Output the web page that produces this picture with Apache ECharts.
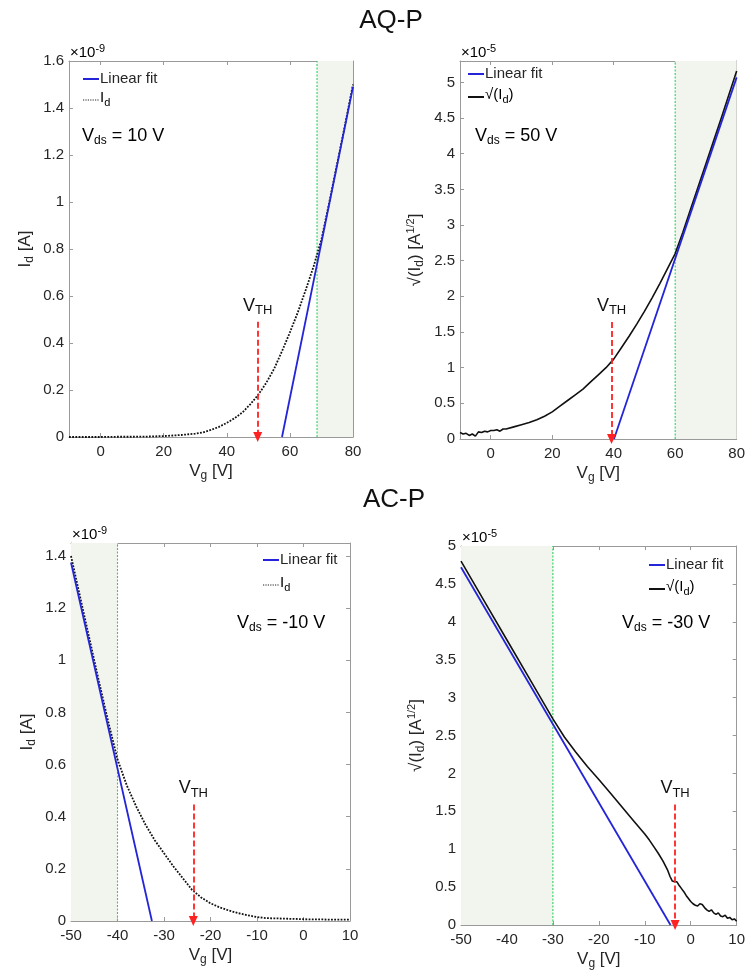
<!DOCTYPE html>
<html>
<head>
<meta charset="utf-8">
<script src="https://cdn.jsdelivr.net/npm/echarts@6/dist/echarts.min.js"></script>
<style>
  html, body { margin: 0; padding: 0; background: #ffffff; }
  #chart { width: 748px; height: 979px; }
</style>
</head>
<body>
<div id="chart"></div>
<script>
// ---------- AQ-P : drain current at Vds = 10 V (units of 1e-9 A) ----------
const aqIdVg = [-10, -5, 0, 5, 10, 15, 20, 25, 30, 32.5, 35, 37.5, 40, 42.5, 45, 47.5, 50,
                52.5, 55, 57.5, 60, 62.5, 65, 67.5, 70, 72.5, 75, 77.5, 80];
const aqId   = [0, 0, 0, 0.001, 0.001, 0.002, 0.004, 0.008, 0.014, 0.02, 0.03, 0.043, 0.06, 0.08, 0.105, 0.14, 0.18,
                0.23, 0.29, 0.365, 0.445, 0.53, 0.625, 0.725, 0.84, 1.0, 1.165, 1.33, 1.5];
const aqIdFitVg = [57.5, 80];
const aqIdFit   = [0, 1.49];

// ---------- AQ-P : sqrt(Id) at Vds = 50 V (units of 1e-5 A^1/2) ----------
const aqSqVg = [-10, -9, -8, -7, -6, -5, -4, -3, -2, -1, 0, 1, 2, 3, 4, 5, 7.5, 10, 12.5, 15, 17.5, 20,
                22.5, 25, 27.5, 30, 32.5, 35, 37.5, 40, 42.5, 45, 47.5, 50, 52.5, 55, 57.5, 60,
                62.5, 65, 67.5, 70, 72.5, 75, 77.5, 80];
const aqSq   = [0.09, 0.07, 0.08, 0.05, 0.07, 0.04, 0.1, 0.09, 0.11, 0.1, 0.12, 0.12, 0.13, 0.11, 0.14, 0.14, 0.17, 0.2, 0.23, 0.27, 0.32, 0.38,
                0.46, 0.54, 0.62, 0.7, 0.8, 0.9, 1.0, 1.12, 1.28, 1.44, 1.61, 1.79, 1.98, 2.18, 2.39, 2.6,
                2.9, 3.22, 3.54, 3.86, 4.18, 4.5, 4.83, 5.16];
const aqSqFitVg = [40.1, 80];
const aqSqFit   = [0, 5.07];

// ---------- AC-P : drain current at Vds = -10 V (units of 1e-9 A) ----------
const acIdVg = [-50, -48, -46, -44, -42, -40, -38, -36, -34, -32, -30, -28, -26, -24, -22, -20, -18, -16,
                -14, -12, -10, -8, -6, -4, -2, 0, 2, 4, 6, 8, 10];
const acId   = [1.40, 1.24, 1.08, 0.92, 0.765, 0.62, 0.52, 0.44, 0.37, 0.31, 0.26, 0.21, 0.165, 0.12, 0.09, 0.068, 0.052, 0.04,
                0.03, 0.022, 0.015, 0.011, 0.01, 0.009, 0.008, 0.007, 0.006, 0.006, 0.005, 0.005, 0.005];
const acIdFitVg = [-50, -32.6];
const acIdFit   = [1.375, 0];

// ---------- AC-P : sqrt(Id) at Vds = -30 V (units of 1e-5 A^1/2) ----------
const acSqVg = [-50, -45, -40, -35, -30, -27.5, -25, -22.5, -20, -17.5, -15, -12.5, -10, -9, -8, -7, -6, -5.5,
                -5, -4.5, -4, -3.5, -3, -2.5, -2, -1.5, -1, -0.5, 0, 0.5, 1, 1.5, 2, 2.5, 3, 3.5,
                4, 4.5, 5, 5.5, 6, 6.5, 7, 7.5, 8, 8.5, 9, 9.5, 10];
const acSq   = [4.8, 4.28, 3.76, 3.24, 2.72, 2.48, 2.28, 2.09, 1.92, 1.74, 1.56, 1.38, 1.2, 1.12, 1.03, 0.94, 0.84, 0.78,
                0.72, 0.64, 0.58, 0.57, 0.57, 0.52, 0.48, 0.44, 0.39, 0.35, 0.31, 0.28, 0.26, 0.25, 0.28, 0.27, 0.23, 0.2,
                0.18, 0.2, 0.16, 0.14, 0.16, 0.12, 0.11, 0.13, 0.09, 0.1, 0.07, 0.08, 0.05];
const acSqFitVg = [-50, -4.4];
const acSqFit   = [4.72, 0];

// ---------- tick values ----------
const vgTicksAQ = [0, 20, 40, 60, 80];
const vgTicksAC = [-50, -40, -30, -20, -10, 0, 10];
const idTicksAQ = [0, 0.2, 0.4, 0.6, 0.8, 1, 1.2, 1.4, 1.6];
const idTicksAC = [0, 0.2, 0.4, 0.6, 0.8, 1, 1.2, 1.4];
const sqTicks   = [0, 0.5, 1, 1.5, 2, 2.5, 3, 3.5, 4, 4.5, 5];

// ---------- fit window, threshold voltage ----------
const fitWindow   = [[68.6, 80], [60, 80], [-50, -40], [-50, -30]];
const fitEdge     = [68.6, 60, -40, -30];
const vthVg       = [49.8, 39.3, -23.7, -3.4];
const vthArrowTop = [0.49, 1.64, 0.447, 1.59];
const vdsLabels   = ['10', '50', '-10', '-30'];

const FONT = '"Liberation Sans", Helvetica, Arial, sans-serif';
const AXIS_GREY = '#9a9a9a';
const TEXT = '#262626';
const FIT_BLUE = '#2424d8';
const SHADE = '#f2f5ee';
const EDGE_GREEN = '#2ecf5e';
const VTH_RED = '#ff2222';

const pair = (xs, ys) => xs.map((x, i) => [x, ys[i]]);

const subRich = {
  m: { fontSize: 17, fontFamily: FONT, color: TEXT },
  s: { fontSize: 12, fontFamily: FONT, color: TEXT, padding: [9, 0, 0, 0] },
  p: { fontSize: 11, fontFamily: FONT, color: TEXT, padding: [0, 0, 9, 0] }
};

const panels = [
  { grid: { left: 69, top: 61, width: 284, height: 376 }, x: [-10, 80], xt: vgTicksAQ, y: [0, 1.6], yt: idTicksAQ,
    yName: '{m|I}{s|d}{m| [A]}', yGap: 33, mult: '-9', curve: pair(aqIdVg, aqId), fit: pair(aqIdFitVg, aqIdFit),
    dotted: true },
  { grid: { left: 460, top: 61, width: 278, height: 378 }, x: [-10, 80], xt: vgTicksAQ, y: [0, 5.3], yt: sqTicks,
    yName: '{m|√(I}{s|d}{m|) [A}{p|1/2}{m|]}', yGap: 34, mult: '-5', curve: pair(aqSqVg, aqSq), fit: pair(aqSqFitVg, aqSqFit),
    dotted: false },
  { grid: { left: 71, top: 543, width: 279, height: 378 }, x: [-50, 10], xt: vgTicksAC, y: [0, 1.45], yt: idTicksAC,
    yName: '{m|I}{s|d}{m| [A]}', yGap: 33, mult: '-9', curve: pair(acIdVg, acId), fit: pair(acIdFitVg, acIdFit),
    dotted: true },
  { grid: { left: 461, top: 546, width: 277, height: 379 }, x: [-50, 10], xt: vgTicksAC, y: [0, 5], yt: sqTicks,
    yName: '{m|√(I}{s|d}{m|) [A}{p|1/2}{m|]}', yGap: 34, mult: '-5', curve: pair(acSqVg, acSq), fit: pair(acSqFitVg, acSqFit),
    dotted: false }
];

// legend / annotation offsets from each grid's top-left corner
const legendPos = [
  { lx: 14, ly1: 18, ly2: 37, vx: 13, vy: 75 },
  { lx: 8, ly1: 13, ly2: 34, vx: 15, vy: 75 },
  { lx: 192, ly1: 17, ly2: 40, vx: 166, vy: 80 },
  { lx: 188, ly1: 19, ly2: 41, vx: 161, vy: 77 }
];

const grids = [], xAxes = [], yAxes = [], series = [], graphics = [];

panels.forEach((p, i) => {
  grids.push(Object.assign({ containLabel: false }, p.grid));
  const frame = { show: true, onZero: false, lineStyle: { color: AXIS_GREY, width: 1 } };
  const tick = (vals) => ({ show: true, inside: true, length: 4, customValues: vals, lineStyle: { color: AXIS_GREY } });

  xAxes.push({
    type: 'value', gridIndex: i, position: 'bottom', min: p.x[0], max: p.x[1],
    axisLine: frame, axisTick: tick(p.xt), splitLine: { show: false },
    axisLabel: { customValues: p.xt, color: TEXT, fontSize: 15, fontFamily: FONT, margin: 7 },
    name: '{m|V}{s|g}{m| [V]}', nameLocation: 'middle', nameGap: 24,
    nameTextStyle: { rich: subRich }
  });
  xAxes.push({
    type: 'value', gridIndex: i, position: 'top', min: p.x[0], max: p.x[1],
    axisLine: frame, axisTick: tick(p.xt), axisLabel: { show: false }, splitLine: { show: false }
  });
  yAxes.push({
    type: 'value', gridIndex: i, position: 'left', min: p.y[0], max: p.y[1],
    axisLine: frame, axisTick: tick(p.yt), splitLine: { show: false },
    axisLabel: { customValues: p.yt, color: TEXT, fontSize: 15, fontFamily: FONT, margin: 5 },
    name: p.yName, nameLocation: 'middle', nameRotate: 90, nameGap: p.yGap,
    nameTextStyle: { rich: subRich }
  });
  yAxes.push({
    type: 'value', gridIndex: i, position: 'right', min: p.y[0], max: p.y[1],
    axisLine: frame, axisTick: tick(p.yt), axisLabel: { show: false }, splitLine: { show: false }
  });

  const xi = 2 * i, yi = 2 * i;

  // fitting window: shaded band
  series.push({
    type: 'line', xAxisIndex: xi, yAxisIndex: yi, data: [], z: 1, silent: true,
    markArea: {
      silent: true, itemStyle: { color: SHADE },
      data: [[{ xAxis: fitWindow[i][0] }, { xAxis: fitWindow[i][1] }]]
    }
  });

  // green edge of the fitting window, spanning the full y range
  series.push({
    type: 'line', xAxisIndex: xi, yAxisIndex: yi, z: 2, silent: true,
    data: [[fitEdge[i], p.y[0]], [fitEdge[i], p.y[1]]],
    showSymbol: false, symbol: 'none', color: EDGE_GREEN,
    lineStyle: { color: EDGE_GREEN, width: 1.1, type: [2, 1.5] }
  });

  // measured curve
  series.push({
    type: 'line', xAxisIndex: xi, yAxisIndex: yi, data: p.curve, z: 3,
    showSymbol: false, symbol: 'none', silent: true,
    lineStyle: p.dotted ? { color: '#111111', width: 1.8, type: [1.8, 1.4] } : { color: '#111111', width: 1.6 }
  });

  // linear fit
  series.push({
    type: 'line', xAxisIndex: xi, yAxisIndex: yi, data: p.fit, z: 4,
    showSymbol: false, symbol: 'none', silent: true,
    lineStyle: { color: FIT_BLUE, width: 1.8 }
  });

  // threshold voltage arrow
  series.push({
    type: 'line', xAxisIndex: xi, yAxisIndex: yi, data: [], z: 5, silent: true,
    markLine: {
      silent: true, symbol: ['none', 'triangle'], symbolSize: [9, 10],
      lineStyle: { color: VTH_RED, width: 1.8, type: [6, 3] },
      itemStyle: { color: VTH_RED },
      label: {
        show: true, position: 'start', distance: 5, formatter: '{v|V}{t|TH}',
        rich: {
          v: { fontSize: 18, fontFamily: FONT, color: '#111111' },
          t: { fontSize: 13, fontFamily: FONT, color: '#111111', padding: [9, 0, 0, 0] }
        }
      },
      data: [[{ coord: [vthVg[i], vthArrowTop[i]] }, { coord: [vthVg[i], 0] }]]
    }
  });

  // legend, multiplier and bias annotation
  const g = p.grid;
  const lp = legendPos[i];
  graphics.push({
    type: 'text', x: g.left + 1, y: g.top - 8,
    style: {
      text: '{m|×10}{p|' + p.mult + '}', verticalAlign: 'middle', align: 'left',
      rich: {
        m: { fontSize: 15, fontFamily: FONT, color: TEXT },
        p: { fontSize: 11, fontFamily: FONT, color: TEXT, padding: [0, 0, 9, 0] }
      }
    }
  });

  const lx = g.left + lp.lx, ly1 = g.top + lp.ly1, ly2 = g.top + lp.ly2;
  graphics.push({
    type: 'line', shape: { x1: lx, y1: ly1, x2: lx + 16, y2: ly1 },
    style: { stroke: FIT_BLUE, lineWidth: 2 }
  });
  graphics.push({
    type: 'text', x: lx + 17, y: ly1,
    style: { text: 'Linear fit', fontSize: 15, fontFamily: FONT, fill: TEXT, verticalAlign: 'middle', align: 'left' }
  });
  graphics.push({
    type: 'line', shape: { x1: lx, y1: ly2 + 2, x2: lx + 16, y2: ly2 + 2 },
    style: p.dotted ? { stroke: '#222222', lineWidth: 1.2, lineDash: [1.2, 1.2] } : { stroke: '#111111', lineWidth: 2 }
  });
  graphics.push({
    type: 'text', x: lx + 17, y: ly2,
    style: {
      text: p.dotted ? '{m|I}{s|d}' : '{m|√(I}{s|d}{m|)}', verticalAlign: 'middle', align: 'left',
      rich: {
        m: { fontSize: 15, fontFamily: FONT, color: TEXT },
        s: { fontSize: 11, fontFamily: FONT, color: TEXT, padding: [9, 0, 0, 0] }
      }
    }
  });
  graphics.push({
    type: 'text', x: g.left + lp.vx, y: g.top + lp.vy,
    style: {
      text: '{m|V}{s|ds}{m| = ' + vdsLabels[i] + ' V}', verticalAlign: 'middle', align: 'left',
      rich: {
        m: { fontSize: 18, fontFamily: FONT, color: '#111111' },
        s: { fontSize: 12, fontFamily: FONT, color: '#111111', padding: [9, 0, 0, 0] }
      }
    }
  });
});

// device titles
graphics.push({
  type: 'text', x: 391, y: 21,
  style: { text: 'AQ-P', fontSize: 26, fontFamily: FONT, fill: '#111111', align: 'center', verticalAlign: 'middle' }
});
graphics.push({
  type: 'text', x: 394, y: 500,
  style: { text: 'AC-P', fontSize: 26, fontFamily: FONT, fill: '#111111', align: 'center', verticalAlign: 'middle' }
});

const chart = echarts.init(document.getElementById('chart'), null, { renderer: 'canvas' });
chart.setOption({
  animation: false,
  backgroundColor: '#ffffff',
  textStyle: { fontFamily: FONT },
  grid: grids,
  xAxis: xAxes,
  yAxis: yAxes,
  series: series,
  graphic: graphics
});
</script>
</body>
</html>
